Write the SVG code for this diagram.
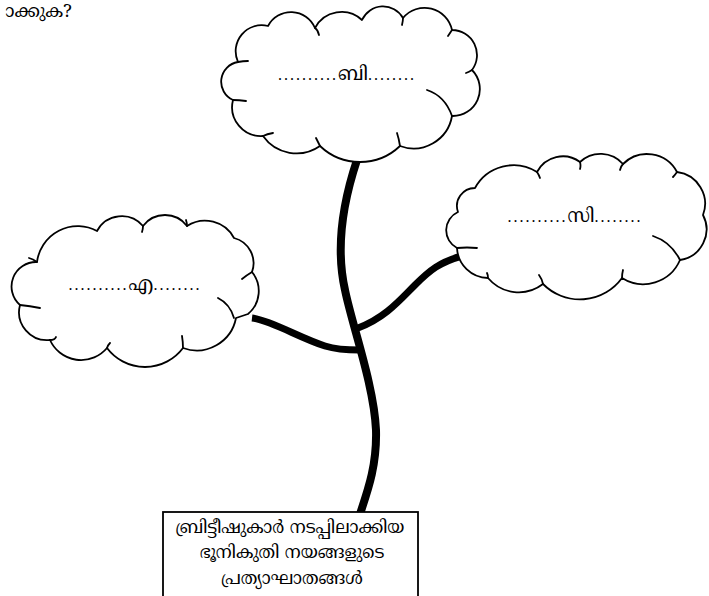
<svg xmlns="http://www.w3.org/2000/svg" width="709" height="596" viewBox="0 0 709 596">
<style>
.cloud{fill:#fff;stroke:#000;stroke-width:1.8;stroke-linejoin:round}
.tick{fill:none;stroke:#000;stroke-width:1.8;stroke-linecap:round}
.conn{fill:none;stroke:#000;stroke-linecap:butt}
.ml{font-family:"Noto Serif Malayalam","Noto Sans Malayalam","Noto Sans",sans-serif;fill:#000}
.lbl{font-family:"Liberation Serif","Noto Serif Malayalam","Noto Sans Malayalam",serif;font-size:16px;text-anchor:middle;fill:#000}
.dots{letter-spacing:2px}
.let{font-size:19px;font-family:"Noto Serif Malayalam","Noto Sans Malayalam",serif}
</style>
<rect width="709" height="596" fill="#fff"/>
<text class="ml" x="0" y="17" font-size="18">&#xA0;ാക്കുക?</text>
<g id="connectors">
<path class="conn" stroke-width="8" d="M357,160 C342,205 336,250 345,290 C352,325 374,385 376,430 C377,465 368,490 360,514"/>
<path class="conn" stroke-width="7" d="M252,318 C270,320 300,338 325,346 C338,350 350,350 360,350"/>
<path class="conn" stroke-width="7" d="M358,328 C385,318 400,300 415,285 C430,270 440,262 462,256"/>
</g>
<g id="cloud-b">
<path class="cloud" d="M233,100 A20,20 0 0 1 238,62 A26,26 0 0 1 268,26 A26,26 0 0 1 315,28 A30,30 0 0 1 362,20 A23,23 0 0 1 403,18 A28,28 0 0 1 452,30 A25,25 0 0 1 472,70 A27,27 0 0 1 452,116 A39,39 0 0 1 400,146 A58,58 0 0 1 320,146 A41,41 0 0 1 263,136 A29,29 0 0 1 233,100 Z"/>
<path class="tick" d="M238,62 q5,-1 10,-1 M315,28 q3,2 4,7 M403,18 q0,3 -1,7 M452,30 q-2,3 -4,6 M472,70 q-3,2 -6,3 M427,90 q18,6 25,26 M400,146 q-1,-7 -3,-13 M320,146 q-2,-4 -4,-8 M263,136 q4,-2 10,-3 M233,100 q6,0 13,1"/>
<text class="lbl" x="347" y="80"><tspan class="dots">..........</tspan><tspan class="let">ബി</tspan><tspan class="dots">........</tspan></text>
</g>
<g id="cloud-c">
<path class="cloud" d="M457,248 A20,20 0 0 1 458,212 A18,18 0 0 1 475,188 A44,44 0 0 1 537,172 A29,29 0 0 1 580,162 A30,30 0 0 1 623,164 A34,34 0 0 1 677,172 A32,32 0 0 1 703,215 A31,31 0 0 1 680,260 A40,40 0 0 1 622,278 A52,52 0 0 1 543,284 A40,40 0 0 1 488,278 A31.5,31.5 0 0 1 457,248 Z"/>
<path class="tick" d="M457,248 q10,-1 20,0 M537,172 q2,3 3,6 M580,162 q1,4 0,7 M623,164 q-2,2 -3,6 M677,172 q-2,3 -4,5 M653,236 q18,6 27,24 M622,278 q0,-4 1,-8 M543,284 q-1,-5 -4,-9 M488,278 q0,-3 -1,-5"/>
<text class="lbl" x="575" y="222"><tspan class="dots">..........</tspan><tspan class="let">സി</tspan><tspan class="dots">........</tspan></text>
</g>
<g id="cloud-a">
<path class="cloud" d="M20,305 A24.5,24.5 0 0 1 37,262 A41,41 0 0 1 97,231 A28,28 0 0 1 143,226 A27.5,27.5 0 0 1 187,226 A33,33 0 0 1 234,238 A26,26 0 0 1 252,272 A30,30 0 0 1 248,314 L236,318 A40,40 0 0 1 183,348 A47.5,47.5 0 0 1 107,348 A34,34 0 0 1 50,340 A28,28 0 0 1 20,305 Z"/>
<path class="tick" d="M20,305 q10,1 20,3 M37,262 q-4,-3 -8,-4 M143,226 q0,3 -1,6 M187,226 q0,-3 -1,-6 M252,272 q-5,3 -10,7 M218,298 q12,6 16,20 M183,348 q0,-6 -1,-12 M107,348 q1,-3 3,-5 M50,340 q5,0 6,-3"/>
<text class="lbl" x="135" y="290"><tspan class="dots">..........</tspan><tspan class="let">എ</tspan><tspan class="dots">........</tspan></text>
</g>
<g id="box">
<rect x="163" y="512" width="255" height="90" fill="#fff" stroke="#000" stroke-width="1.8"/>
<text class="ml" font-size="17.5" text-anchor="middle" x="290" y="533">ബ്രിട്ടീഷുകാർ നടപ്പിലാക്കിയ</text>
<text class="ml" font-size="17.5" text-anchor="middle" x="292" y="558">ഭൂനികുതി നയങ്ങളുടെ</text>
<text class="ml" font-size="17.5" text-anchor="middle" x="292" y="584">പ്രത്യാഘാതങ്ങൾ</text>
</g>
</svg>
